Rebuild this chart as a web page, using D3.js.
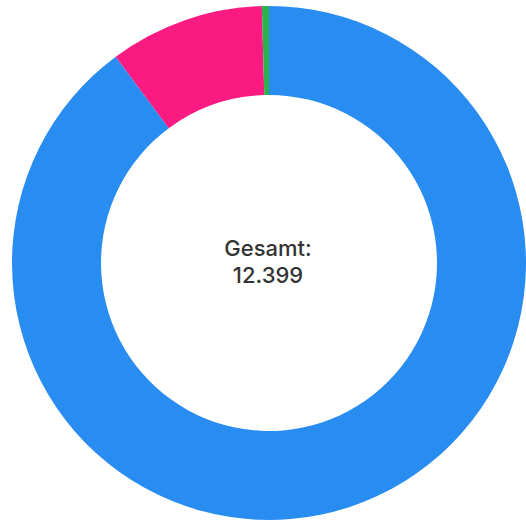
<!DOCTYPE html>
<html>
<head>
<meta charset="utf-8">
<script src="https://cdn.jsdelivr.net/npm/d3@7"></script>
<style>
  body { margin: 0; background: #fff; }
  svg { display: block; }
</style>
</head>
<body>
<div class="chart"></div>
<script>
// slices, clockwise from 12 o'clock
var labels = ['A', 'B', 'C'];
var values = [11138, 1206, 55];
var colors = ['#288CF1', '#FB1A82', '#2DB24B'];
var totalLabel = 'Gesamt:';

var width = 526, height = 522;
var cx = 269, cy = 263;
var outerR = 257, innerR = 168;

var svg = d3.select('.chart').append('svg')
  .attr('width', width)
  .attr('height', height);

var pie = d3.pie().sort(null).value(function(d) { return d; });
var arc = d3.arc().innerRadius(innerR).outerRadius(outerR);

var g = svg.append('g').attr('transform', 'translate(' + cx + ',' + cy + ')');

g.selectAll('path')
  .data(pie(values))
  .enter()
  .append('path')
  .attr('d', arc)
  .attr('fill', function(d, i) { return colors[i]; });

var total = d3.sum(values);
var fmt = d3.formatLocale({ decimal: ',', thousands: '.', grouping: [3], currency: ['', '€'] }).format(',d');

// two-line centre label
g.append('text')
  .attr('x', -1).attr('y', -7)
  .attr('text-anchor', 'middle')
  .style('font-family', 'Inter, "Noto Sans", sans-serif')
  .style('font-size', '22px')
  .style('font-weight', 500)
  .style('fill', '#333333')
  .text(totalLabel);

g.append('text')
  .attr('x', -1).attr('y', 20)
  .attr('text-anchor', 'middle')
  .style('font-family', 'Inter, "Noto Sans", sans-serif')
  .style('font-size', '22px')
  .style('font-weight', 500)
  .style('fill', '#333333')
  .text(fmt(total));
</script>
</body>
</html>
